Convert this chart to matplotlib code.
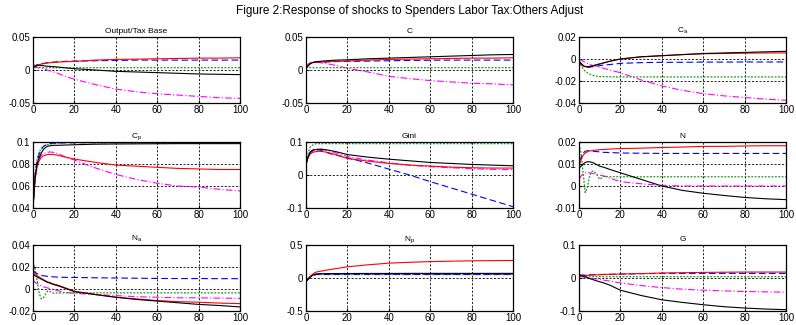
import numpy as np
import matplotlib.pyplot as plt
from matplotlib.ticker import FuncFormatter

plt.rcParams['font.family'] = ['Liberation Sans', 'DejaVu Sans']
plt.rcParams['mathtext.fontset'] = 'custom'
plt.rcParams['mathtext.rm'] = 'Liberation Sans'
plt.rcParams['mathtext.it'] = 'Liberation Sans'

t = [0, 1, 2, 3, 4, 5, 6, 7, 8, 10, 12, 15, 20, 30, 40, 50, 60, 70, 80, 90, 100]

# Output/Tax Base
out_k = [0.004, 0.006, 0.007, 0.007, 0.0068, 0.0065, 0.006, 0.0058, 0.0055, 0.005, 0.0045, 0.0035, 0.002, 0.0, -0.002, -0.003, -0.004, -0.005, -0.006, -0.0065, -0.007]
out_r = [0.002, 0.005, 0.007, 0.008, 0.009, 0.0095, 0.010, 0.0105, 0.011, 0.0115, 0.012, 0.0125, 0.013, 0.015, 0.016, 0.0165, 0.017, 0.0175, 0.018, 0.018, 0.0185]
out_b = [0.003, 0.006, 0.008, 0.009, 0.0095, 0.010, 0.0105, 0.011, 0.0115, 0.012, 0.0125, 0.013, 0.0135, 0.014, 0.0145, 0.015, 0.015, 0.015, 0.015, 0.015, 0.015]
out_m = [0.004, 0.004, 0.0035, 0.003, 0.0025, 0.002, 0.001, 0.0, -0.001, -0.003, -0.005, -0.009, -0.014, -0.022, -0.029, -0.033, -0.036, -0.038, -0.040, -0.042, -0.043]
out_g = [0.009, 0.007, 0.005, 0.004, 0.0038, 0.0036, 0.0035, 0.0035, 0.0035, 0.0035, 0.0035, 0.0035, 0.0035, 0.0035, 0.0035, 0.0035, 0.0035, 0.0035, 0.0035, 0.0035, 0.0035]

# C
c_k = [0.002, 0.006, 0.009, 0.011, 0.012, 0.0125, 0.013, 0.0132, 0.0135, 0.014, 0.0145, 0.015, 0.0155, 0.017, 0.018, 0.019, 0.020, 0.021, 0.022, 0.023, 0.0235]
c_r = [0.003, 0.007, 0.010, 0.011, 0.0115, 0.012, 0.012, 0.012, 0.0122, 0.0125, 0.013, 0.0132, 0.0135, 0.015, 0.016, 0.0165, 0.017, 0.0175, 0.018, 0.018, 0.0185]
c_b = [0.003, 0.007, 0.010, 0.011, 0.0115, 0.012, 0.012, 0.012, 0.012, 0.0122, 0.0125, 0.0128, 0.013, 0.0135, 0.014, 0.0145, 0.0148, 0.015, 0.015, 0.015, 0.015]
c_m = [0.005, 0.009, 0.011, 0.012, 0.012, 0.0118, 0.0115, 0.011, 0.0105, 0.0095, 0.0085, 0.0065, 0.0025, -0.003, -0.0095, -0.013, -0.016, -0.018, -0.020, -0.021, -0.0225]
c_g = [0.005, 0.004, 0.0035, 0.0035, 0.0035, 0.0035, 0.0035, 0.0035, 0.0035, 0.0035, 0.0035, 0.0035, 0.0035, 0.0035, 0.0035, 0.0035, 0.0035, 0.0035, 0.0035, 0.0035, 0.0035]

# C_a
ca_k = [-0.002, -0.004, -0.006, -0.0068, -0.007, -0.0068, -0.0065, -0.006, -0.0055, -0.0045, -0.0035, -0.002, 0.0, 0.002, 0.003, 0.004, 0.005, 0.0055, 0.006, 0.0065, 0.007]
ca_r = [-0.002, -0.005, -0.0065, -0.007, -0.007, -0.0068, -0.0065, -0.006, -0.0055, -0.0045, -0.0035, -0.002, 0.0, 0.002, 0.003, 0.004, 0.0048, 0.005, 0.0053, 0.0055, 0.0055]
ca_b = [-0.002, -0.004, -0.006, -0.007, -0.0075, -0.0075, -0.0072, -0.007, -0.0068, -0.006, -0.0055, -0.005, -0.004, -0.0033, -0.003, -0.003, -0.0028, -0.0028, -0.0027, -0.0027, -0.0027]
ca_m = [0.0, -0.001, -0.002, -0.003, -0.004, -0.005, -0.0055, -0.006, -0.0065, -0.0075, -0.0085, -0.010, -0.0125, -0.019, -0.0245, -0.0285, -0.0315, -0.0335, -0.035, -0.0365, -0.0375]
ca_g = [-0.002, -0.006, -0.009, -0.011, -0.0125, -0.0135, -0.0145, -0.015, -0.0155, -0.016, -0.016, -0.0162, -0.0163, -0.0163, -0.0163, -0.0163, -0.0163, -0.0163, -0.0163, -0.0163, -0.0163]

# C_p
cp_k = [0.04, 0.068, 0.080, 0.086, 0.090, 0.093, 0.095, 0.096, 0.0965, 0.097, 0.097, 0.0972, 0.0975, 0.098, 0.0982, 0.0983, 0.0984, 0.0985, 0.0985, 0.0985, 0.0985]
cp_r = [0.04, 0.065, 0.078, 0.083, 0.086, 0.0875, 0.088, 0.0885, 0.0888, 0.0885, 0.088, 0.0865, 0.0845, 0.0815, 0.079, 0.078, 0.077, 0.076, 0.0755, 0.075, 0.075]
cp_b = [0.04, 0.070, 0.083, 0.089, 0.093, 0.096, 0.097, 0.098, 0.0985, 0.099, 0.099, 0.0992, 0.0993, 0.0994, 0.0995, 0.0995, 0.0995, 0.0995, 0.0995, 0.0995, 0.0995]
cp_m = [0.04, 0.067, 0.080, 0.085, 0.088, 0.0895, 0.090, 0.0905, 0.091, 0.0905, 0.0895, 0.087, 0.0835, 0.0765, 0.0705, 0.066, 0.0625, 0.060, 0.059, 0.057, 0.0555]
cp_g = [0.04, 0.072, 0.085, 0.091, 0.094, 0.096, 0.097, 0.0975, 0.098, 0.0985, 0.099, 0.0995, 0.0995, 0.0993, 0.0992, 0.0991, 0.099, 0.099, 0.099, 0.099, 0.099]

# Gini
gini_k = [0.032, 0.055, 0.068, 0.073, 0.076, 0.077, 0.078, 0.078, 0.0775, 0.076, 0.074, 0.070, 0.062, 0.054, 0.048, 0.043, 0.038, 0.035, 0.032, 0.030, 0.028]
gini_r = [0.032, 0.052, 0.063, 0.068, 0.070, 0.071, 0.072, 0.0715, 0.071, 0.069, 0.066, 0.060, 0.050, 0.042, 0.035, 0.030, 0.027, 0.024, 0.022, 0.021, 0.021]
gini_b = [0.032, 0.055, 0.068, 0.073, 0.075, 0.076, 0.076, 0.075, 0.073, 0.068, 0.064, 0.060, 0.052, 0.036, 0.018, 0.0, -0.020, -0.039, -0.058, -0.077, -0.096]
gini_m = [0.032, 0.058, 0.070, 0.076, 0.078, 0.079, 0.079, 0.0785, 0.078, 0.075, 0.072, 0.066, 0.056, 0.045, 0.037, 0.030, 0.025, 0.022, 0.019, 0.017, 0.016]
gini_g = [0.032, 0.065, 0.085, 0.090, 0.093, 0.095, 0.095, 0.095, 0.095, 0.095, 0.095, 0.095, 0.095, 0.095, 0.095, 0.095, 0.095, 0.095, 0.095, 0.095, 0.095]

# N
n_k = [0.008, 0.009, 0.010, 0.0107, 0.011, 0.011, 0.0108, 0.0105, 0.010, 0.009, 0.0085, 0.0075, 0.006, 0.003, 0.0, -0.002, -0.0033, -0.0043, -0.0052, -0.0058, -0.0062]
n_r = [0.009, 0.012, 0.014, 0.015, 0.0155, 0.016, 0.016, 0.0162, 0.0163, 0.0165, 0.0166, 0.0168, 0.017, 0.0172, 0.0175, 0.0177, 0.018, 0.018, 0.0182, 0.0183, 0.0183]
n_b = [0.011, 0.013, 0.015, 0.0158, 0.016, 0.016, 0.016, 0.0158, 0.0157, 0.0155, 0.0153, 0.0152, 0.015, 0.0149, 0.0148, 0.0148, 0.0148, 0.0148, 0.0148, 0.0148, 0.0148]
n_m = [0.003, 0.0045, 0.0055, 0.006, 0.006, 0.006, 0.0058, 0.0056, 0.0055, 0.005, 0.0045, 0.0035, 0.002, 0.001, 0.0003, 0.0, 0.0, 0.0, 0.0, 0.0, 0.0]
n_g = [0.019, 0.015, 0.006, -0.003, -0.001, 0.004, 0.0065, 0.0068, 0.006, 0.003, 0.0045, 0.0042, 0.0042, 0.0042, 0.0042, 0.0042, 0.0042, 0.0042, 0.0042, 0.0042, 0.0042]

# N_a
na_k = [0.014, 0.012, 0.011, 0.010, 0.009, 0.008, 0.007, 0.006, 0.0055, 0.004, 0.003, 0.001, -0.0024, -0.005, -0.0075, -0.0095, -0.011, -0.0125, -0.014, -0.015, -0.0163]
na_r = [0.016, 0.014, 0.012, 0.011, 0.0095, 0.0085, 0.0075, 0.0065, 0.006, 0.0045, 0.0035, 0.0015, -0.002, -0.005, -0.0075, -0.009, -0.0105, -0.0115, -0.012, -0.0128, -0.0133]
na_b = [0.017, 0.015, 0.014, 0.013, 0.0125, 0.012, 0.0118, 0.0115, 0.0113, 0.011, 0.0108, 0.0106, 0.0105, 0.0102, 0.010, 0.0098, 0.0096, 0.0095, 0.0095, 0.0094, 0.0094]
na_m = [0.008, 0.006, 0.005, 0.004, 0.003, 0.002, 0.0015, 0.001, 0.0005, -0.0005, -0.0015, -0.003, -0.004, -0.005, -0.006, -0.007, -0.0075, -0.008, -0.008, -0.0083, -0.0085]
na_g = [0.025, 0.018, 0.008, -0.004, -0.009, -0.008, -0.005, -0.002, -0.002, -0.004, -0.0035, -0.0035, -0.0035, -0.0035, -0.0035, -0.0035, -0.0035, -0.0035, -0.0035, -0.0035, -0.0035]

# N_p
np_k = [-0.05, -0.02, 0.01, 0.04, 0.055, 0.06, 0.063, 0.064, 0.065, 0.066, 0.067, 0.068, 0.068, 0.069, 0.069, 0.07, 0.07, 0.07, 0.07, 0.07, 0.07]
np_r = [-0.05, -0.01, 0.03, 0.05, 0.075, 0.09, 0.097, 0.103, 0.108, 0.12, 0.13, 0.145, 0.17, 0.20, 0.225, 0.238, 0.248, 0.255, 0.26, 0.263, 0.265]
np_b = [-0.05, -0.02, 0.01, 0.035, 0.048, 0.052, 0.054, 0.055, 0.055, 0.055, 0.055, 0.055, 0.055, 0.055, 0.055, 0.055, 0.055, 0.055, 0.055, 0.055, 0.055]
np_m = [-0.05, -0.02, 0.015, 0.04, 0.055, 0.06, 0.062, 0.062, 0.061, 0.06, 0.06, 0.059, 0.058, 0.057, 0.056, 0.055, 0.055, 0.055, 0.055, 0.055, 0.055]
np_g = [-0.05, -0.02, 0.01, 0.035, 0.045, 0.05, 0.052, 0.052, 0.052, 0.052, 0.052, 0.052, 0.052, 0.052, 0.052, 0.052, 0.052, 0.052, 0.052, 0.052, 0.052]

# G
g_k = [0.01, 0.008, 0.006, 0.0035, 0.001, -0.0015, -0.0035, -0.0055, -0.0075, -0.0115, -0.015, -0.022, -0.037, -0.053, -0.066, -0.074, -0.081, -0.087, -0.091, -0.094, -0.096]
g_r = [0.005, 0.006, 0.007, 0.0075, 0.008, 0.0085, 0.009, 0.0093, 0.0095, 0.010, 0.0105, 0.011, 0.012, 0.0135, 0.015, 0.016, 0.017, 0.0175, 0.018, 0.018, 0.018]
g_b = [0.008, 0.0085, 0.009, 0.009, 0.0095, 0.0095, 0.010, 0.010, 0.0102, 0.0105, 0.011, 0.0113, 0.012, 0.013, 0.014, 0.014, 0.014, 0.014, 0.014, 0.014, 0.014]
g_m = [0.005, 0.004, 0.003, 0.002, 0.001, 0.0, -0.001, -0.002, -0.0025, -0.0045, -0.0065, -0.0095, -0.015, -0.023, -0.029, -0.034, -0.037, -0.039, -0.041, -0.042, -0.043]
g_g = [0.01, 0.007, 0.005, 0.0045, 0.004, 0.004, 0.004, 0.004, 0.004, 0.004, 0.004, 0.004, 0.004, 0.004, 0.004, 0.004, 0.004, 0.004, 0.004, 0.004, 0.004]

titles = ['Output/Tax Base', 'C', r'C$_{\rm a}$', r'C$_{\rm p}$', 'Gini', 'N',
          r'N$_{\rm a}$', r'N$_{\rm p}$', 'G']
yticks = [[-0.05, 0, 0.05], [-0.05, 0, 0.05], [-0.04, -0.02, 0, 0.02],
          [0.04, 0.06, 0.08, 0.1], [-0.1, 0, 0.1], [-0.01, 0, 0.01, 0.02],
          [-0.02, 0, 0.02, 0.04], [-0.5, 0, 0.5], [-0.1, 0, 0.1]]
xticks = [0, 20, 40, 60, 80, 100]

panels = [
    (out_k, out_r, out_b, out_m, out_g),
    (c_k, c_r, c_b, c_m, c_g),
    (ca_k, ca_r, ca_b, ca_m, ca_g),
    (cp_k, cp_r, cp_b, cp_m, cp_g),
    (gini_k, gini_r, gini_b, gini_m, gini_g),
    (n_k, n_r, n_b, n_m, n_g),
    (na_k, na_r, na_b, na_m, na_g),
    (np_k, np_r, np_b, np_m, np_g),
    (g_k, g_r, g_b, g_m, g_g),
]

fig = plt.figure(figsize=(7.96, 3.25), dpi=100)
fig.text(0.515, 0.965, 'Figure 2:Response of shocks to Spenders Labor Tax:Others Adjust',
         ha='center', va='center', fontsize=8.5)

lefts = [33 / 796, 306 / 796, 579 / 796]
bottoms = [1 - 103 / 325, 1 - 208 / 325, 1 - 311 / 325]
w, h = 207 / 796, 66 / 325
fmt = FuncFormatter(lambda v, p: '%g' % round(v, 6))

for i, (k, r, b, m, g) in enumerate(panels):
    ax = fig.add_axes([lefts[i % 3], bottoms[i // 3], w, h])
    ax.plot(t, m, color='#ff00ff', ls=(0, (6, 2, 1, 2)), lw=0.8)
    ax.plot(t, g, color='#1a9a1a', ls=(0, (1.5, 1.2)), lw=0.9)
    ax.plot(t, b, color='#0000ff', ls=(0, (6, 3)), lw=0.8)
    ax.plot(t, r, color='#ff0000', lw=0.8)
    ax.plot(t, k, color='black', lw=0.8)
    ax.set_xlim(0, 100)
    ax.set_ylim(yticks[i][0], yticks[i][-1])
    ax.set_xticks(xticks)
    ax.set_yticks(yticks[i])
    ax.yaxis.set_major_formatter(fmt)
    ax.grid(True, color='black', ls=(0, (2.5, 2)), lw=0.6)
    ax.tick_params(direction='in', length=2, labelsize=7, pad=2)
    ax.tick_params(axis='x', pad=1.5)
    for s in ax.spines.values():
        s.set_linewidth(0.9)
    ax.set_title(titles[i], fontsize=6, pad=3)

plt.savefig('out.png', dpi=100)
